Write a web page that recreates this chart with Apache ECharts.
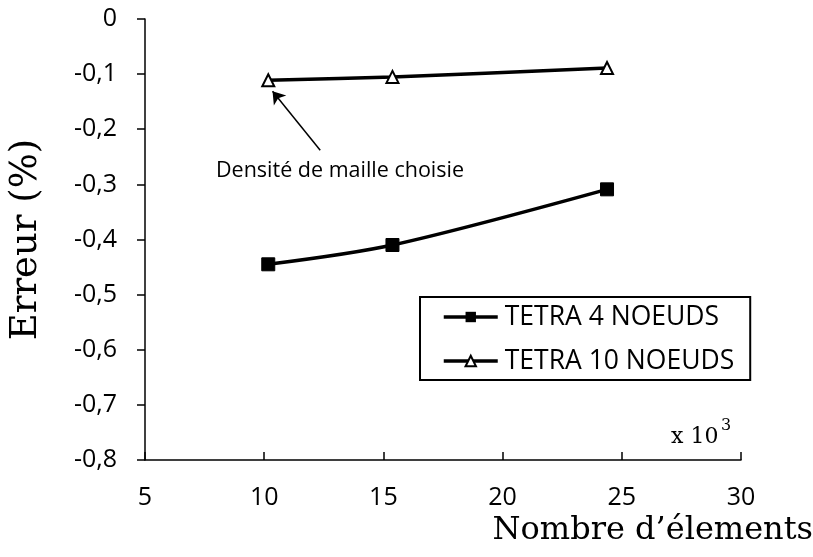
<!DOCTYPE html>
<html>
<head>
<meta charset="utf-8">
<script src="https://cdn.jsdelivr.net/npm/echarts@6/dist/echarts.min.js"></script>
<style>
  html, body { margin: 0; padding: 0; background: #fff; }
  #chart { width: 813px; height: 557px; }
</style>
</head>
<body>
<div id="chart"></div>
<script>
// nombre d'éléments (x 10^3)
const elements = [10.17, 15.38, 24.38];
// erreur (%) pour chaque type d'élément
const tetra4 = [-0.445, -0.41, -0.309];
const tetra10 = [-0.111, -0.105, -0.089];
const seriesNames = ['TETRA 4 NOEUDS', 'TETRA 10 NOEUDS'];
// flèche d'annotation (coordonnées dans le repère des données)
const arrowFrom = [12.35, -0.238];
const arrowTo = [10.35, -0.131];

const chart = echarts.init(document.getElementById('chart'));
const labelFont = { fontFamily: 'Open Sans', fontSize: 25, color: '#000' };
const serif = 'DejaVu Serif';

const option = {
  animation: false,
  grid: { left: 142, right: 72, top: 19, bottom: 97, containLabel: false },
  legend: {
    data: seriesNames,
    orient: 'vertical',
    left: 420,
    top: 297,
    itemWidth: 54,
    itemHeight: 13,
    itemGap: 14,
    padding: [5, 16, 4, 22],
    borderColor: '#000',
    borderWidth: 2,
    lineStyle: { width: 3.5, color: '#000' },
    textStyle: { fontFamily: 'Open Sans', fontSize: 26.5, lineHeight: 30, color: '#000', padding: [0, 0, 0, 2] }
  },
  xAxis: {
    type: 'value',
    min: 5,
    max: 30,
    interval: 5,
    splitLine: { show: false },
    axisLine: { onZero: false, lineStyle: { color: '#000', width: 1.5 } },
    axisTick: { inside: true, length: 8, lineStyle: { color: '#000', width: 1.5 } },
    axisLabel: Object.assign({ margin: 25, formatter: v => String(v) }, labelFont)
  },
  yAxis: {
    type: 'value',
    min: -0.8,
    max: 0,
    interval: 0.1,
    name: 'Erreur (%)',
    nameLocation: 'middle',
    nameGap: 100,
    nameTextStyle: { fontFamily: serif, fontSize: 37, color: '#000' },
    splitLine: { show: false },
    axisLine: { lineStyle: { color: '#000', width: 1.5 } },
    axisTick: { inside: false, length: 8, lineStyle: { color: '#000', width: 1.5 } },
    axisLabel: Object.assign({
      margin: 28,
      formatter: v => (Math.round(v * 10) / 10).toString().replace('.', ',')
    }, labelFont)
  },
  series: [
    {
      name: seriesNames[0],
      type: 'line',
      smooth: 0.3,
      data: elements.map((x, i) => [x, tetra4[i]]),
      symbol: 'rect',
      symbolSize: 13,
      lineStyle: { color: '#000', width: 3.5 },
      itemStyle: { color: '#000', borderColor: '#000' }
    },
    {
      name: seriesNames[1],
      type: 'line',
      smooth: 0.3,
      data: elements.map((x, i) => [x, tetra10[i]]),
      symbol: 'triangle',
      symbolSize: 12,
      lineStyle: { color: '#000', width: 3.5 },
      itemStyle: { color: '#fff', borderColor: '#000', borderWidth: 2 },
      markLine: {
        silent: true,
        symbol: ['none', 'arrow'],
        symbolSize: 12,
        lineStyle: { color: '#000', width: 1.5, type: 'solid' },
        label: { show: false },
        data: [[{ coord: arrowFrom }, { coord: arrowTo }]]
      }
    }
  ],
  graphic: [
    {
      type: 'text',
      left: 216,
      top: 160,
      style: { text: 'Densité de maille choisie', fontFamily: 'Open Sans', fontSize: 21.5, fill: '#000' }
    },
    {
      type: 'text',
      left: 671,
      top: 426,
      style: { text: 'x 10', fontFamily: serif, fontSize: 22, fill: '#000' }
    },
    {
      type: 'text',
      left: 721,
      top: 418,
      style: { text: '3', fontFamily: serif, fontSize: 16, fill: '#000' }
    },
    {
      type: 'text',
      right: 0,
      top: 515,
      style: { text: 'Nombre d’élements', fontFamily: serif, fontSize: 32, fill: '#000' }
    }
  ]
};

chart.setOption(option);
</script>
</body>
</html>
